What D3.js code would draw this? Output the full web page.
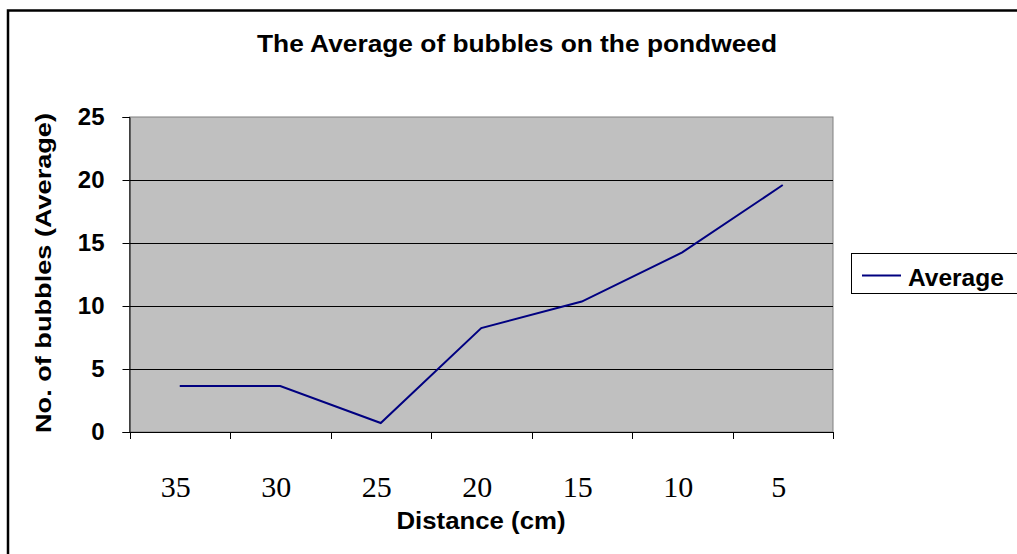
<!DOCTYPE html>
<html>
<head>
<meta charset="utf-8">
<script src="https://cdn.jsdelivr.net/npm/d3@7"></script>
<style>
  html, body { margin: 0; padding: 0; background: #fff; overflow: hidden; }
  svg { display: block; }
</style>
</head>
<body>
<svg id="chart" width="1017" height="554"></svg>
<script>
const categories = ["35", "30", "25", "20", "15", "10", "5"];
const averageValues = [3.65, 3.65, 0.71, 8.25, 10.35, 14.25, 19.6];
const yTicks = [0, 5, 10, 15, 20, 25];
const seriesName = "Average";
const titleText = "The Average of bubbles on the pondweed";
const xTitleText = "Distance (cm)";
const yTitleText = "No. of bubbles (Average)";

const svg = d3.select("#chart");
const W = 1017, H = 554;
const plot = { left: 129.5, right: 833, top: 117, bottom: 432 };

// outer chart border
svg.append("rect")
  .attr("x", 8).attr("y", 10.5)
  .attr("width", W + 20).attr("height", H + 20)
  .attr("fill", "#fff").attr("stroke", "#000").attr("stroke-width", 2.5);

const x = d3.scaleBand().domain(categories).range([plot.left, plot.right]).padding(0);
const y = d3.scaleLinear().domain([0, 25]).range([plot.bottom, plot.top]);

// plot background
svg.append("rect")
  .attr("x", plot.left).attr("y", plot.top)
  .attr("width", plot.right - plot.left).attr("height", plot.bottom - plot.top)
  .attr("fill", "#c0c0c0").attr("stroke", "#808080").attr("stroke-width", 1);

// gridlines
svg.append("g").selectAll("line")
  .data(yTicks.filter(t => t > 0 && t < 25))
  .join("line")
  .attr("x1", plot.left).attr("x2", plot.right)
  .attr("y1", d => Math.round(y(d)) + 0.5).attr("y2", d => Math.round(y(d)) + 0.5)
  .attr("stroke", "#000").attr("stroke-width", 1);

// y axis
const yAxis = d3.axisLeft(y).tickValues(yTicks).tickSize(7).tickPadding(18).tickFormat(d3.format("d"));
const gy = svg.append("g").attr("transform", `translate(${plot.left},0)`).call(yAxis);
gy.select(".domain").attr("stroke", "#000");
gy.selectAll(".tick line").attr("stroke", "#000");
gy.selectAll(".tick text")
  .attr("font-family", "Liberation Sans, Arial, sans-serif")
  .attr("font-weight", "bold").attr("font-size", 24).attr("fill", "#000");

// x axis line + ticks at category boundaries
const gx = svg.append("g").attr("transform", `translate(0,${plot.bottom})`);
gx.append("line").attr("x1", plot.left).attr("x2", plot.right).attr("y1", 0.5).attr("y2", 0.5)
  .attr("stroke", "#000");
const boundaries = categories.map(c => x(c)).concat([x(categories[categories.length - 1]) + x.bandwidth()]);
gx.selectAll("line.tk").data(boundaries).join("line").attr("class", "tk")
  .attr("x1", d => Math.round(d) + 0.5).attr("x2", d => Math.round(d) + 0.5)
  .attr("y1", 0).attr("y2", 7).attr("stroke", "#000");
gx.selectAll("text").data(categories).join("text")
  .attr("x", d => x(d) + x.bandwidth() / 2 - 4)
  .attr("y", 65)
  .attr("text-anchor", "middle")
  .attr("font-family", "Liberation Serif, Times New Roman, serif")
  .attr("font-size", 30).attr("fill", "#000")
  .text(d => d);

// line
const line = d3.line()
  .x((d, i) => x(categories[i]) + x.bandwidth() / 2)
  .y(d => y(d));
svg.append("path").datum(averageValues)
  .attr("d", line).attr("fill", "none")
  .attr("stroke", "#000080").attr("stroke-width", 2);

// title
svg.append("text")
  .attr("x", 517).attr("y", 52)
  .attr("text-anchor", "middle")
  .attr("font-family", "Liberation Sans, Arial, sans-serif")
  .attr("font-weight", "bold").attr("font-size", 24.5)
  .attr("textLength", 520).attr("lengthAdjust", "spacingAndGlyphs")
  .text(titleText);

// x title
svg.append("text")
  .attr("x", 481).attr("y", 529)
  .attr("text-anchor", "middle")
  .attr("font-family", "Liberation Sans, Arial, sans-serif")
  .attr("font-weight", "bold").attr("font-size", 24)
  .attr("textLength", 169).attr("lengthAdjust", "spacingAndGlyphs")
  .text(xTitleText);

// y title
svg.append("text")
  .attr("transform", "translate(51,273) rotate(-90)")
  .attr("text-anchor", "middle")
  .attr("font-family", "Liberation Sans, Arial, sans-serif")
  .attr("font-weight", "bold").attr("font-size", 22.5)
  .attr("textLength", 320).attr("lengthAdjust", "spacingAndGlyphs")
  .text(yTitleText);

// legend
const lg = svg.append("g");
lg.append("rect").attr("x", 851.5).attr("y", 253.5).attr("width", 180).attr("height", 40)
  .attr("fill", "#fff").attr("stroke", "#000").attr("stroke-width", 1);
lg.append("line").attr("x1", 862).attr("x2", 901).attr("y1", 275.5).attr("y2", 275.5)
  .attr("stroke", "#000080").attr("stroke-width", 2);
lg.append("text").attr("x", 908).attr("y", 285.5)
  .attr("font-family", "Liberation Sans, Arial, sans-serif")
  .attr("font-weight", "bold").attr("font-size", 24.5)
  .text(seriesName);
</script>
</body>
</html>
